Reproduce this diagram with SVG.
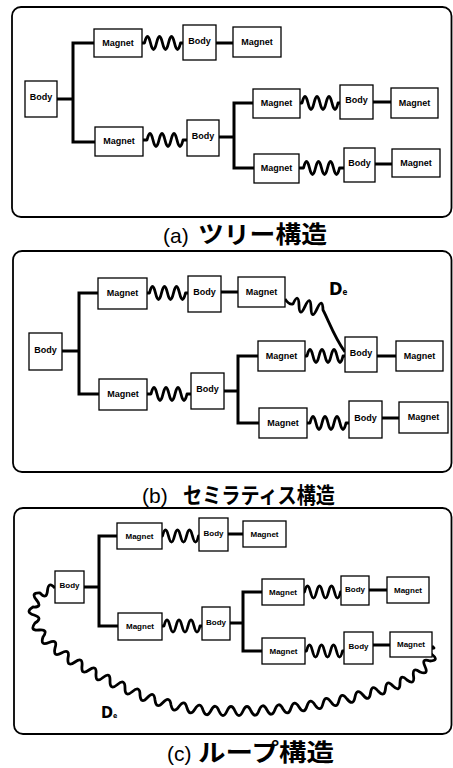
<svg xmlns="http://www.w3.org/2000/svg" width="453" height="768" viewBox="0 0 453 768">
<style>
.panel{fill:#fff;stroke:#000;stroke-width:1.8}
.box{fill:#fff;stroke:#000;stroke-width:1.3}
.lbl{font-family:"Liberation Sans",Arial,sans-serif;font-weight:bold;font-size:9px;text-anchor:middle;fill:#000}
.sm{font-size:8px}
.ln{stroke:#000;stroke-width:3;fill:none}
.spr{stroke:#000;stroke-width:2.8;fill:none;stroke-linejoin:round}
.cap{font-family:"Liberation Sans",Arial,sans-serif;font-size:21px;fill:#000}
.jp{font-family:"Noto Sans CJK JP","Noto Sans CJK SC",sans-serif;font-weight:bold;fill:#000}
.de{font-family:"Liberation Sans Narrow","DejaVu Sans Condensed","Liberation Sans",sans-serif;font-weight:bold;fill:#000}
</style>
<rect width="453" height="768" fill="#fff"/>
<rect class="panel" x="12" y="7" width="439.5" height="210" rx="9"/>
<rect class="panel" x="13" y="251" width="438.5" height="221" rx="9"/>
<rect class="panel" x="14" y="508" width="437.5" height="226" rx="9"/>

<g id="connectors">
<path class="ln" d="M94,43 H73 V142 H95 M57,99 H73 M216,43 H233 M253,103 H234 V168 H254 M219,137 H234 M373,102 H391 M375,164 H392"/>
<path class="spr" d="M142,43 H144.5 q3,-13 6,0 t6,0 t6,0 t6,0 t6,0 t6,0 H183"/>
<path class="spr" d="M143,140 H147 q3,-13 6,0 t6,0 t6,0 t6,0 t6,0 t6,0 H187"/>
<path class="spr" d="M300,103 H302 q3,-13 6,0 t6,0 t6,0 t6,0 t6,0 t6,0 H340"/>
<path class="spr" d="M299,168 H303.5 q3,-13 6,0 t6,0 t6,0 t6,0 t6,0 t6,0 H344"/>

<path class="ln" d="M98,293 H79 V394 H99 M62,351 H79 M221,292 H238 M258,356 H238 V423 H259 M224,391 H238 M377,356 H396 M382,418 H399"/>
<path class="spr" d="M147,293 H149.5 q3,-13 6,0 t6,0 t6,0 t6,0 t6,0 t6,0 H188"/>
<path class="spr" d="M147,394 H151 q3,-13 6,0 t6,0 t6,0 t6,0 t6,0 t6,0 H191"/>
<path class="spr" d="M305,356 H307 q3,-13 6,0 t6,0 t6,0 t6,0 t6,0 t6,0 H345"/>
<path class="spr" d="M307,423 H310 q3,-13 6,0 t6,0 t6,0 t6,0 t6,0 t6,0 H349"/>
<path class="spr" d="M285,299 Q289,305 293,304 q5.55,-12.1 6,1.2 t6,1.2 t6,1.2 t6,1.2 t6,1.2 C328,319 334,337 345,352"/>

<path class="ln" d="M117,536 H99 V626 H118 M84,587 H99 M228,534 H243 M262,592 H243 V651 H262 M230,623 H243 M369,590 H387 M373,645 H390"/>
<path class="spr" d="M162,536 H162.5 q3,-12 6,0 t6,0 t6,0 t6,0 t6,0 t6,0 H199"/>
<path class="spr" d="M162,626 H164 q3,-12 6,0 t6,0 t6,0 t6,0 t6,0 t6,0 H202"/>
<path class="spr" d="M304,592 H304.5 q3,-12 6,0 t6,0 t6,0 t6,0 t6,0 t6,0 H341"/>
<path class="spr" d="M305,651 H306.5 q3,-12 6,0 t6,0 t6,0 t6,0 t6,0 t6,0 H344"/>
<path class="spr" d="M55,588 Q48.4,580.7 47.5,590.5 Q46.6,600.3 40,593 Q30.2,592.5 36.5,600 Q42.8,607.5 33,607 Q24.6,612.1 34,615 Q43.4,617.9 35,623 Q29.2,631 39,630 Q48.8,629 43,637 Q39.9,646.4 49,642.5 Q58.1,638.6 55,648 Q52.8,657.6 61.5,653 Q70.2,648.4 68,658 Q67,667.8 75,662 Q83,656.2 82,666 Q81,675.8 89,670 Q97,664.2 96,674 Q95.5,683.8 103,677.5 Q110.5,671.2 110,681 Q109.9,690.9 117.5,684.5 Q125.1,678.1 125,688 Q124.9,697.9 132.5,691.5 Q140.1,685.1 140,695 Q140.9,704.8 147.5,697.5 Q154.1,690.2 155,700 Q156.3,709.8 163,702.5 Q169.7,695.2 171,705 Q173.3,714.6 179,706.5 Q184.7,698.4 187,708 Q189.9,717.4 195,709 Q200.1,700.6 203,710 Q206.4,719.2 211,710.5 Q215.6,701.8 219,711 Q223,720 227,711 Q231,702 235,711 Q239,720 243,711 Q247,702 251,711 Q255.6,719.7 259,710.5 Q262.4,701.3 267,710 Q271.6,718.7 275,709.5 Q278.4,700.3 283,709 Q288.1,717.4 291,708 Q293.9,698.6 299,707 Q304.1,715.4 307,706 Q309.9,696.6 315,705 Q320.7,713.1 323,703.5 Q325.3,693.9 331,702 Q336.7,710.1 339,700.5 Q341.3,690.9 347,699 Q353.2,706.7 355,697 Q356.8,687.3 363,695 Q369.1,702.7 370.5,693 Q371.9,683.3 378,691 Q384.6,698.3 385.5,688.5 Q386.4,678.7 393,686 Q400,692.8 400,683 Q400,673.2 407,680 Q415,685.7 413.5,676 Q412,666.3 420,672 Q429.1,675.3 425,666.5 Q420.9,657.7 430,661 Q439.6,660.4 432,654.5 Q424.4,648.6 434,648 L432,646"/>
</g>

<g id="a-body0"><rect class="box" x="25" y="81" width="32" height="36"/><text class="lbl" x="41" y="100">Body</text></g>
<g id="a-mag1"><rect class="box" x="94" y="29" width="48" height="28"/><text class="lbl" x="118" y="45.5">Magnet</text></g>
<g id="a-body1"><rect class="box" x="183" y="25" width="33" height="35"/><text class="lbl" x="199.5" y="43.5">Body</text></g>
<g id="a-mag2"><rect class="box" x="233" y="27" width="48" height="30"/><text class="lbl" x="257" y="44.5">Magnet</text></g>
<g id="a-mag3"><rect class="box" x="95" y="127" width="48" height="29"/><text class="lbl" x="119" y="144">Magnet</text></g>
<g id="a-body2"><rect class="box" x="187" y="120" width="32" height="36"/><text class="lbl" x="203" y="139">Body</text></g>
<g id="a-mag4"><rect class="box" x="253" y="89" width="47" height="29"/><text class="lbl" x="276.5" y="106">Magnet</text></g>
<g id="a-body3"><rect class="box" x="340" y="85" width="33" height="34"/><text class="lbl" x="356.5" y="103">Body</text></g>
<g id="a-mag5"><rect class="box" x="391" y="88" width="47" height="30"/><text class="lbl" x="414.5" y="105.5">Magnet</text></g>
<g id="a-mag6"><rect class="box" x="254" y="154" width="45" height="29"/><text class="lbl" x="276.5" y="171">Magnet</text></g>
<g id="a-body4"><rect class="box" x="344" y="148" width="31" height="34"/><text class="lbl" x="359.5" y="166">Body</text></g>
<g id="a-mag7"><rect class="box" x="392" y="149" width="48" height="28"/><text class="lbl" x="416" y="165.5">Magnet</text></g>

<g id="b-body0"><rect class="box" x="29" y="333" width="33" height="37"/><text class="lbl" x="45.5" y="352.5">Body</text></g>
<g id="b-mag1"><rect class="box" x="98" y="278" width="49" height="31"/><text class="lbl" x="122.5" y="296">Magnet</text></g>
<g id="b-body1"><rect class="box" x="188" y="276" width="33" height="36"/><text class="lbl" x="204.5" y="295">Body</text></g>
<g id="b-mag2"><rect class="box" x="238" y="277" width="47" height="30"/><text class="lbl" x="261.5" y="294.5">Magnet</text></g>
<g id="b-mag3"><rect class="box" x="99" y="379" width="48" height="31"/><text class="lbl" x="123" y="397">Magnet</text></g>
<g id="b-body2"><rect class="box" x="191" y="373" width="33" height="36"/><text class="lbl" x="207.5" y="392">Body</text></g>
<g id="b-mag4"><rect class="box" x="258" y="341" width="47" height="30"/><text class="lbl" x="281.5" y="358.5">Magnet</text></g>
<g id="b-body3"><rect class="box" x="345" y="337" width="32" height="35"/><text class="lbl" x="361" y="355.5">Body</text></g>
<g id="b-mag5"><rect class="box" x="396" y="341" width="47" height="30"/><text class="lbl" x="419.5" y="358.5">Magnet</text></g>
<g id="b-mag6"><rect class="box" x="259" y="408" width="48" height="30"/><text class="lbl" x="283" y="425.5">Magnet</text></g>
<g id="b-body4"><rect class="box" x="349" y="401" width="33" height="37"/><text class="lbl" x="365.5" y="420.5">Body</text></g>
<g id="b-mag7"><rect class="box" x="399" y="402" width="49" height="31"/><text class="lbl" x="423.5" y="420">Magnet</text></g>
<g id="b-label"><text class="de" x="329" y="295" font-size="18">D<tspan font-size="8" dy="-0.5">e</tspan></text></g>

<g id="c-body0"><rect class="box" x="55" y="571" width="29" height="32"/><text class="lbl sm" x="69.5" y="588">Body</text></g>
<g id="c-mag1"><rect class="box" x="117" y="523" width="45" height="26"/><text class="lbl sm" x="139.5" y="538.5">Magnet</text></g>
<g id="c-body1"><rect class="box" x="199" y="518" width="29" height="33"/><text class="lbl sm" x="213.5" y="535.5">Body</text></g>
<g id="c-mag2"><rect class="box" x="243" y="521" width="43" height="26"/><text class="lbl sm" x="264.5" y="536.5">Magnet</text></g>
<g id="c-mag3"><rect class="box" x="118" y="613" width="44" height="27"/><text class="lbl sm" x="140" y="629">Magnet</text></g>
<g id="c-body2"><rect class="box" x="202" y="607" width="28" height="33"/><text class="lbl sm" x="216" y="624.5">Body</text></g>
<g id="c-mag4"><rect class="box" x="262" y="579" width="42" height="26"/><text class="lbl sm" x="283" y="594.5">Magnet</text></g>
<g id="c-body3"><rect class="box" x="341" y="576" width="28" height="29"/><text class="lbl sm" x="355" y="591.5">Body</text></g>
<g id="c-mag5"><rect class="box" x="387" y="577" width="42" height="26"/><text class="lbl sm" x="408" y="592.5">Magnet</text></g>
<g id="c-mag6"><rect class="box" x="262" y="638" width="43" height="26"/><text class="lbl sm" x="283.5" y="653.5">Magnet</text></g>
<g id="c-body4"><rect class="box" x="344" y="632" width="29" height="32"/><text class="lbl sm" x="358.5" y="649">Body</text></g>
<g id="c-mag7"><rect class="box" x="390" y="632" width="42" height="25"/><text class="lbl sm" x="411" y="647">Magnet</text></g>
<g id="c-label"><text class="de" x="101" y="718" font-size="16">D<tspan font-size="7" dy="-0.5">e</tspan></text></g>

<g id="captions">
<text class="cap" x="163" y="243">(a)</text>
<text class="jp" x="198" y="243" font-size="24" textLength="129" lengthAdjust="spacingAndGlyphs">ツリー構造</text>
<text class="cap" x="142" y="503">(b)</text>
<text class="jp" x="183" y="503" font-size="22" textLength="152" lengthAdjust="spacingAndGlyphs">セミラティス構造</text>
<text class="cap" x="167" y="761">(c)</text>
<text class="jp" x="198" y="761" font-size="24" textLength="136" lengthAdjust="spacingAndGlyphs">ループ構造</text>
</g>
</svg>
